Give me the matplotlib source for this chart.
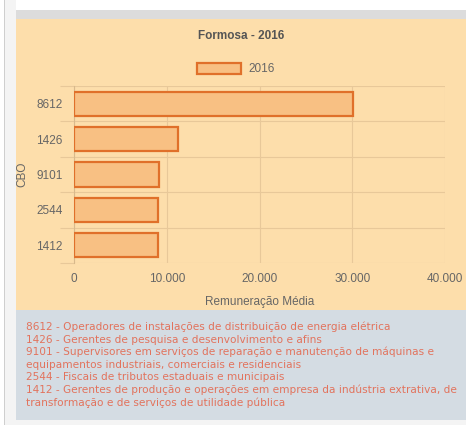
import matplotlib.pyplot as plt
from matplotlib.patches import Rectangle

# dados do gráfico
cbo = ["8612", "1426", "9101", "2544", "1412"]
remuneracao = [30050, 11250, 9150, 9030, 9050]
serie = "2016"
xticks = [0, 10000, 20000, 30000, 40000]
xtick_labels = ["0", "10.000", "20.000", "30.000", "40.000"]
legenda = [
    "8612 - Operadores de instalações de distribuição de energia elétrica",
    "1426 - Gerentes de pesquisa e desenvolvimento e afins",
    "9101 - Supervisores em serviços de reparação e manutenção de máquinas e",
    "equipamentos industriais, comerciais e residenciais",
    "2544 - Fiscais de tributos estaduais e municipais",
    "1412 - Gerentes de produção e operações em empresa da indústria extrativa, de",
    "transformação e de serviços de utilidade pública",
]

W, H = 467, 425
fig = plt.figure(figsize=(W / 100, H / 100), dpi=100)
fig.patch.set_facecolor("white")


def caixa(x0, y0, x1, y1, cor):
    # retângulo em pixels (origem no topo)
    fig.patches.append(Rectangle((x0 / W, 1 - y1 / H), (x1 - x0) / W, (y1 - y0) / H,
                                 transform=fig.transFigure, facecolor=cor,
                                 edgecolor="none", zorder=-5))


caixa(4, 0, 5, H, "#cfcfcf")
caixa(5, 0, 16, H, "#f4f4f4")
caixa(16, 10, 466, 19, "#dcdcdc")
caixa(16, 19, 466, 310, "#fddeab")
caixa(16, 310, 466, 420, "#d4dce3")
caixa(16, 420, 466, H, "#f4f4f4")

ax = fig.add_axes([74 / W, 1 - 263 / H, (445 - 74) / W, (263 - 86) / H])
ax.set_facecolor("none")

pos = range(len(cbo))
ax.barh(pos, remuneracao, height=0.68, color="#f8c083", edgecolor="#e0702a",
        linewidth=1.6, label=serie, zorder=3)

ax.set_xlim(0, 40000)
ax.set_ylim(len(cbo) - 0.5, -0.5)
ax.set_xticks(xticks)
ax.set_xticklabels(xtick_labels)
ax.set_yticks(list(pos))
ax.set_yticklabels(cbo)
ax.set_yticks([i - 0.5 for i in range(len(cbo) + 1)], minor=True)

ax.grid(True, axis="x", color="#e8c899", linewidth=0.8, zorder=1)
ax.grid(True, axis="y", which="minor", color="#e8c899", linewidth=0.8, zorder=1)
ax.tick_params(axis="both", which="major", length=0, colors="#666666", labelsize=8.5)
ax.tick_params(axis="x", pad=7)
ax.tick_params(axis="y", pad=8)
ax.tick_params(axis="y", which="minor", length=10, color="#e8c899", width=0.8)
for lado in ["top", "right", "bottom"]:
    ax.spines[lado].set_visible(False)
ax.spines["left"].set_color("#d8b98c")
ax.spines["left"].set_linewidth(0.8)

for t in ax.get_xticklabels() + ax.get_yticklabels():
    t.set_fontfamily("Liberation Sans")

ax.set_xlabel("Remuneração Média", fontsize=8.5, color="#666666",
              family="Liberation Sans", labelpad=8)
ax.set_ylabel("CBO", fontsize=8.5, color="#666666", family="Liberation Sans", labelpad=6)

fig.text(241 / W, 1 - 36 / H, "Formosa - 2016", ha="center", va="center",
         fontsize=8.5, fontweight="bold", color="#555555", family="Liberation Sans")

leg = ax.legend(loc="center", bbox_to_anchor=(236 / W, 1 - 69 / H),
                bbox_transform=fig.transFigure, frameon=False,
                handlelength=3.7, handleheight=1.1, handletextpad=0.6,
                prop={"family": "Liberation Sans", "size": 8.5})
for t in leg.get_texts():
    t.set_color("#666666")

y = 327
for linha in legenda:
    fig.text(26 / W, 1 - y / H, linha, ha="left", va="center", fontsize=7.6,
             color="#e2735d", family="DejaVu Sans")
    y += 12.6

fig.savefig("out.png", dpi=100)
